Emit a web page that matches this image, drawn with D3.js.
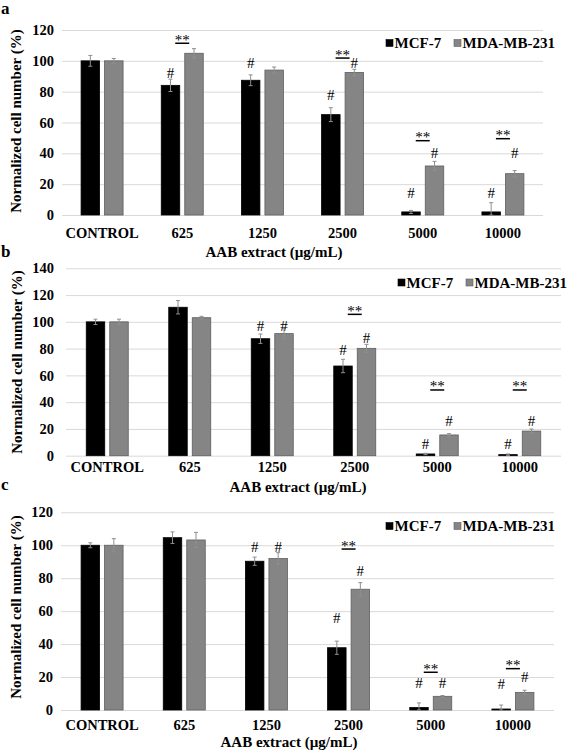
<!DOCTYPE html>
<html><head><meta charset="utf-8">
<script src="https://cdn.jsdelivr.net/npm/d3@7"></script>
<style>
body{margin:0;background:#fff}
svg{display:block}
text{font-family:"Liberation Serif","Times New Roman",serif}
</style>
</head><body>
<svg id="chart" width="567" height="751"></svg>
<script>
// ---------- DATA ----------
const categories = ["CONTROL", "625", "1250", "2500", "5000", "10000"];
const seriesNames = ["MCF-7", "MDA-MB-231"];
const xTitle = "AAB extract (\u00b5g/mL)";
const yTitle = "Normalized cell number (%)";

const ticksA = [0, 20, 40, 60, 80, 100, 120];
const ticksB = [0, 20, 40, 60, 80, 100, 120, 140];
const ticksC = [0, 20, 40, 60, 80, 100, 120];

// panel a
const aMcf    = [100, 84.1, 87.4, 65.1, 2.0, 2.0];
const aMcfErr = [3.5, 4.0, 3.5, 4.5, 1.0, 6.0];
const aMda    = [100, 104.9, 94.0, 92.5, 31.8, 26.8];
const aMdaErr = [1.5, 3.0, 2.0, 2.0, 3.0, 2.0];
const aHashMcf = [null, 92.3, 98.8, 77.8, 14.3, 14.3];
const aHashMda = [null, null, null, 98.8, 40.2, 40.2];
const aStar    = [null, 111.4, null, 101.8, 48.2, 49.5];

// panel b
const bMcf    = [100, 110.9, 87.4, 67.0, 1.3, 0.8];
const bMcfErr = [2.0, 5.0, 3.5, 5.0, 0.5, 0.5];
const bMda    = [100, 103.1, 91.2, 80.2, 15.5, 18.4];
const bMdaErr = [2.0, 1.0, 4.0, 3.0, 1.0, 1.5];
const bHashMcf = [null, null, 97.0, 79.0, 8.7, 8.7];
const bHashMda = [null, null, 97.4, 88.2, 25.9, 25.9];
const bStar    = [null, null, null, 105.6, 49.1, 49.1];

// panel c
const cMcf    = [100, 104.6, 90.3, 37.8, 1.5, 0.6];
const cMcfErr = [1.5, 3.5, 2.5, 4.0, 2.8, 2.4];
const cMda    = [100, 103.2, 91.9, 73.3, 8.3, 10.7];
const cMdaErr = [4.0, 4.6, 3.6, 4.0, 0.5, 1.3];
const cHashMcf = [null, null, 99.1, 56.0, 16.6, 16.0];
const cHashMda = [null, null, 99.1, 84.6, 16.6, 20.2];
const cStar    = [null, null, null, 97.7, 22.9, 25.1];

// ---------- LAYOUT ----------
const panels = [
  {letter:"a", mcf:aMcf, mcfErr:aMcfErr, mda:aMda, mdaErr:aMdaErr, hMcf:aHashMcf, hMda:aHashMda, star:aStar, ticks:ticksA,
   x0:62, x1:543, y0:215, y1:30, tickX:54, letterY:14, labelY:233, titleX:274, titleY:252, yTitleX:16, yTitleY:121, legX:386, legY:43},
  {letter:"b", mcf:bMcf, mcfErr:bMcfErr, mda:bMda, mdaErr:bMdaErr, hMcf:bHashMcf, hMda:bHashMda, star:bStar, ticks:ticksB,
   x0:66, x1:561, y0:455.7, y1:268.3, tickX:54, letterY:257, labelY:467, titleX:298, titleY:487, yTitleX:16.5, yTitleY:362, legX:398, legY:282.5},
  {letter:"c", mcf:cMcf, mcfErr:cMcfErr, mda:cMda, mdaErr:cMdaErr, hMcf:cHashMcf, hMda:cHashMda, star:cStar, ticks:ticksC,
   x0:61, x1:554, y0:710, y1:512.3, tickX:53, letterY:490, labelY:725, titleX:289, titleY:742, yTitleX:16, yTitleY:607, legX:386, legY:526}
];

const FONT = "Liberation Serif, Times New Roman, serif";
const colors = {"MCF-7":"#000000", "MDA-MB-231":"#858585"};
const strokes = {"MCF-7":"#000000", "MDA-MB-231":"#5f5f5f"};
const svg = d3.select("#chart");

panels.forEach(p => {
  const g = svg.append("g");
  const ticks = p.ticks;
  const ymax = ticks[ticks.length - 1];
  const x = d3.scaleBand().domain(categories).range([p.x0, p.x1]).padding(0);
  const sub = d3.scaleBand().domain(seriesNames).range([-21, 21]).paddingInner(0.213);
  const y = d3.scaleLinear().domain([0, ymax]).range([p.y0, p.y1]);

  // gridlines
  const grid = g.append("g").attr("transform", `translate(${p.x0},0)`)
    .call(d3.axisLeft(y).tickValues(ticks).tickSize(-(p.x1 - p.x0)).tickFormat(""));
  grid.select(".domain").remove();
  grid.selectAll("line").attr("stroke", "#d9d9d9").attr("stroke-width", 1);

  // y tick labels
  const ya = g.append("g").attr("transform", `translate(${p.tickX},0)`)
    .call(d3.axisLeft(y).tickValues(ticks).tickSize(0).tickPadding(0));
  ya.select(".domain").remove();
  ya.selectAll("text").attr("font-family", FONT)
    .attr("font-size", "14.5px").attr("font-weight", "bold").attr("fill", "#000");

  // x tick labels
  const xa = g.append("g").attr("transform", `translate(0,${p.labelY})`)
    .call(d3.axisBottom(x).tickSize(0).tickPadding(0));
  xa.select(".domain").remove();
  xa.selectAll("text").attr("dy", "0.35em").attr("y", 0)
    .attr("font-family", FONT)
    .attr("font-size", "14.5px").attr("font-weight", "bold").attr("fill", "#000");

  // bars
  const rows = [];
  categories.forEach((c, i) => {
    rows.push({cat:c, s:"MCF-7", v:p.mcf[i], e:p.mcfErr[i], h:p.hMcf[i]});
    rows.push({cat:c, s:"MDA-MB-231", v:p.mda[i], e:p.mdaErr[i], h:p.hMda[i]});
  });
  const cx = d => x(d.cat) + x.bandwidth() / 2 + sub(d.s) + sub.bandwidth() / 2;

  g.selectAll("rect.bar").data(rows).join("rect").attr("class", "bar")
    .attr("x", d => x(d.cat) + x.bandwidth() / 2 + sub(d.s))
    .attr("width", sub.bandwidth())
    .attr("y", d => y(d.v))
    .attr("height", d => y(0) - y(d.v))
    .attr("fill", d => colors[d.s])
    .attr("stroke", d => strokes[d.s]).attr("stroke-width", 0.8);

  // error bars
  const eb = g.selectAll("g.err").data(rows).join("g").attr("class", "err")
    .attr("stroke", "#8f8f8f").attr("stroke-width", 1);
  eb.append("line").attr("x1", cx).attr("x2", cx)
    .attr("y1", d => y(Math.max(0, d.v - d.e))).attr("y2", d => y(d.v + d.e));
  eb.append("line").attr("x1", d => cx(d) - 2).attr("x2", d => cx(d) + 2)
    .attr("y1", d => y(d.v + d.e)).attr("y2", d => y(d.v + d.e));
  eb.append("line").attr("x1", d => cx(d) - 2).attr("x2", d => cx(d) + 2)
    .attr("y1", d => y(Math.max(0, d.v - d.e))).attr("y2", d => y(Math.max(0, d.v - d.e)));

  // '#' marks
  g.selectAll("text.hash").data(rows.filter(d => d.h != null)).join("text").attr("class", "hash")
    .attr("x", cx).attr("y", d => y(d.h)).attr("dy", "0.36em")
    .attr("font-family", FONT)
    .attr("text-anchor", "middle").attr("font-size", "15px").attr("fill", "#000")
    .text("#");

  // '**' marks with line
  const stars = categories.map((c, i) => ({cat:c, v:p.star[i]})).filter(d => d.v != null);
  const sg = g.selectAll("g.star").data(stars).join("g").attr("class", "star");
  sg.append("line")
    .attr("x1", d => x(d.cat) + x.bandwidth() / 2 - 7)
    .attr("x2", d => x(d.cat) + x.bandwidth() / 2 + 7)
    .attr("y1", d => y(d.v)).attr("y2", d => y(d.v))
    .attr("stroke", "#000").attr("stroke-width", 1.5);
  sg.append("text")
    .attr("x", d => x(d.cat) + x.bandwidth() / 2)
    .attr("y", d => y(d.v) + 1.5)
    .attr("font-family", FONT)
    .attr("text-anchor", "middle").attr("font-size", "15px").attr("fill", "#000")
    .text("**");

  // axis titles
  g.append("text").attr("x", p.titleX).attr("y", p.titleY).attr("dy", "0.35em")
    .attr("font-family", FONT)
    .attr("text-anchor", "middle").attr("font-size", "15px").attr("font-weight", "bold")
    .text(xTitle);
  g.append("text").attr("transform", `translate(${p.yTitleX},${p.yTitleY}) rotate(-90)`)
    .attr("font-family", FONT)
    .attr("dy", "0.35em").attr("text-anchor", "middle")
    .attr("font-size", "15px").attr("font-weight", "bold")
    .text(yTitle);

  // panel letter
  g.append("text").attr("x", 1).attr("y", p.letterY)
    .attr("font-family", "Liberation Sans, Arial, sans-serif")
    .attr("font-size", "17px").attr("font-weight", "bold")
    .text(p.letter);

  // legend
  const lg = g.append("g").attr("transform", `translate(${p.legX},${p.legY})`);
  seriesNames.forEach((s, i) => {
    const ox = i * 68;
    lg.append("rect").attr("x", ox).attr("y", -3.5).attr("width", 7).attr("height", 7)
      .attr("fill", colors[s]).attr("stroke", strokes[s]).attr("stroke-width", 0.6);
    lg.append("text").attr("x", ox + 8.5).attr("y", 0).attr("dy", "0.35em")
      .attr("font-family", FONT)
      .attr("font-size", "15px").attr("font-weight", "bold").text(s);
  });
});
</script>
</body></html>
